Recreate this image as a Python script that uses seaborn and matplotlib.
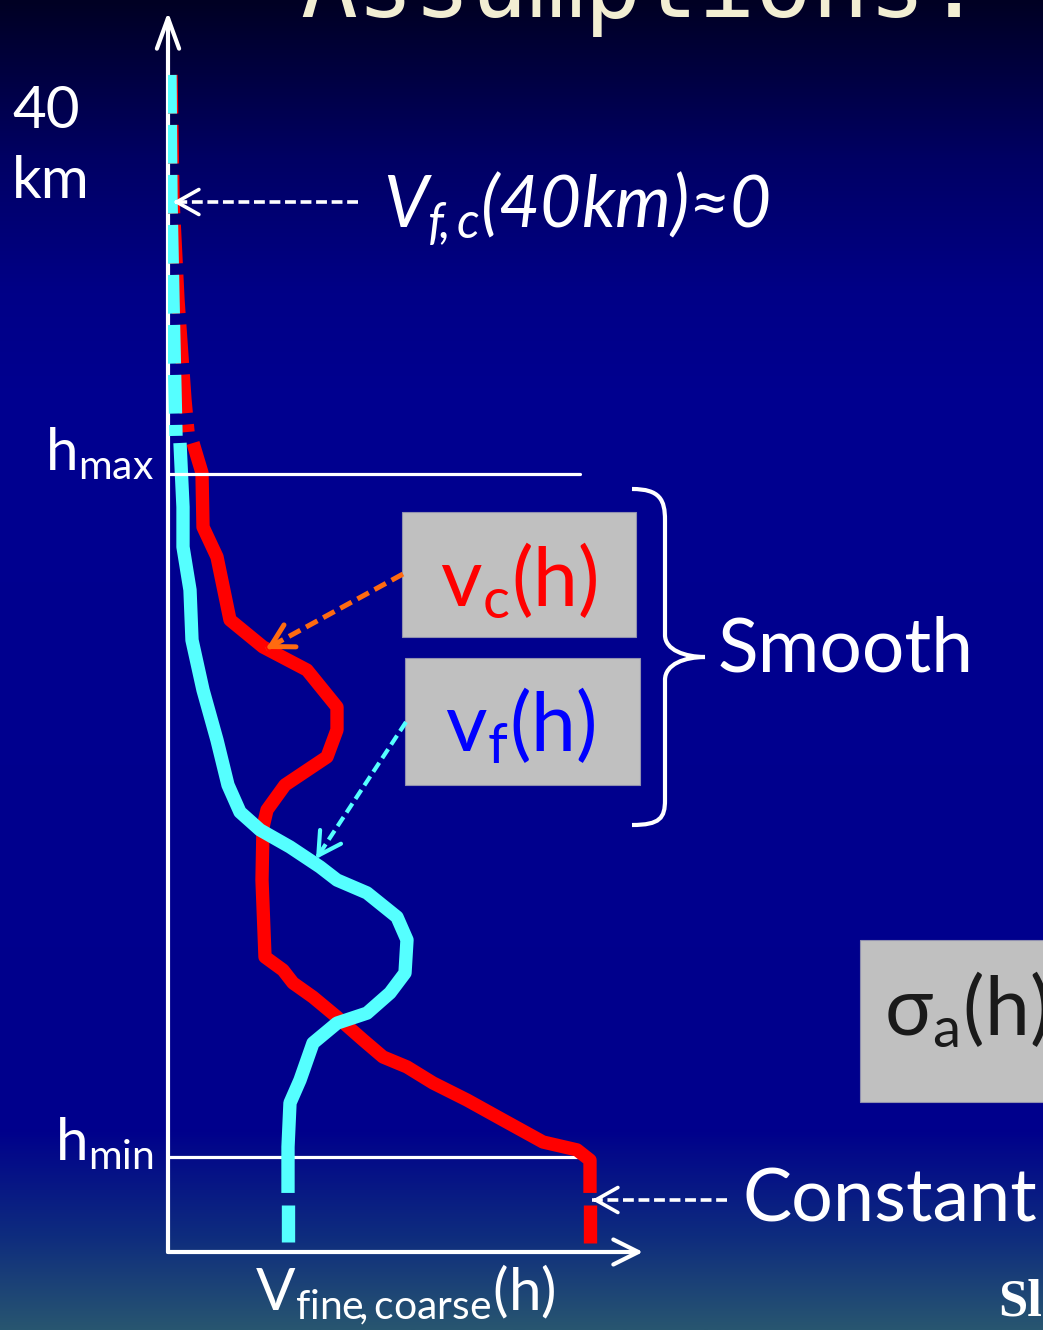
import numpy as np
import matplotlib
matplotlib.use("Agg")
import matplotlib.pyplot as plt
from matplotlib.patches import Rectangle, PathPatch
from matplotlib.path import Path
import seaborn as sns

# ---------------- data (V in arbitrary units, h in km) ----------------
red_top_v = [0.06, 0.10, 0.20, 0.34, 0.40]
red_top_h = [44.84, 40.08, 36.27, 32.46, 31.24]
red_v = [0.50, 0.68, 0.70, 0.98, 1.24, 1.90, 2.78, 3.38, 3.38, 3.18, 2.34, 1.98, 1.90, 1.88, 1.94,
         2.30, 2.50, 2.90, 3.38, 3.90, 4.30, 4.78, 5.30, 5.98, 6.70, 7.50, 8.18, 8.44, 8.44]
red_h = [30.82, 29.68, 27.62, 26.48, 24.08, 23.05, 22.17, 20.76, 19.89, 18.86, 17.79, 16.84, 16.19,
         14.17, 11.24, 10.74, 10.25, 9.71, 8.95, 8.08, 7.43, 7.05, 6.44, 5.79, 5.03, 4.19, 3.89, 3.50, 2.25]
red_bot_v = [8.44, 8.44]
red_bot_h = [1.79, 0.34]

cyan_top_v = [0.04, 0.06, 0.10, 0.16]
cyan_top_h = [44.84, 40.08, 36.27, 31.09]
cyan_v = [0.24, 0.30, 0.30, 0.44, 0.48, 0.70, 0.98, 1.20, 1.44, 1.84, 2.44, 3.04, 3.38, 3.98, 4.58,
          4.78, 4.74, 4.44, 3.98, 3.38, 2.90, 2.64, 2.44, 2.40, 2.40]
cyan_h = [30.82, 28.38, 26.86, 25.22, 23.31, 21.41, 19.50, 17.79, 16.76, 16.08, 15.43, 14.67, 14.17,
          13.68, 12.76, 11.89, 10.63, 9.87, 9.10, 8.72, 7.96, 6.55, 5.68, 4.00, 2.25]
cyan_bot_v = [2.40, 2.40]
cyan_bot_h = [1.79, 0.38]

h_max = 29.64
h_min = 3.62
hmax_line_v = [0.0, 8.24]
hmin_line_v = [0.0, 8.44]

# ---------------- style ----------------
sns.set_theme(style="white")
plt.rcParams['font.family'] = ['Lato', 'DejaVu Sans']
plt.rcParams['mathtext.fontset'] = 'custom'
plt.rcParams['mathtext.rm'] = 'Lato'
plt.rcParams['mathtext.it'] = 'Lato:italic'
plt.rcParams['mathtext.bf'] = 'Lato:bold'

W, H = 1043, 1330
fig = plt.figure(figsize=(W / 100, H / 100), dpi=100)

# background gradient
bg = fig.add_axes([0, 0, 1, 1])
stops = [(0.0, (0, 0, 35)), (0.05, (0, 0, 62)), (0.12, (0, 0, 100)), (0.22, (0, 0, 135)),
         (0.30, (0, 0, 144)), (0.85, (0, 0, 140)), (0.93, (14, 44, 126)), (1.0, (40, 86, 112))]
t = np.linspace(0, 1, 600)
cols = np.zeros((600, 1, 3))
for c in range(3):
    cols[:, 0, c] = np.interp(t, [s[0] for s in stops], [s[1][c] / 255 for s in stops])
bg.imshow(cols, aspect='auto', extent=[0, 1, 0, 1], origin='upper')
bg.set_xlim(0, 1); bg.set_ylim(0, 1)
bg.axis('off')

# data axes
ax = fig.add_axes([168 / W, 78 / H, 475 / W, 1240 / H])
ax.set_xlim(0, 9.5)
ax.set_ylim(0, 1240 / 26.25)
ax.patch.set_alpha(0)
for s in ax.spines.values():
    s.set_visible(False)
ax.set_xticks([]); ax.set_yticks([])

white = '#FFFFFF'
ax.annotate('', xy=(0, 1), xytext=(0, 0), xycoords='axes fraction',
            arrowprops=dict(arrowstyle='->,head_length=1.1,head_width=0.4', color=white, lw=3,
                            mutation_scale=20, shrinkA=0, shrinkB=0), zorder=1)
ax.annotate('', xy=(1, 0), xytext=(0, 0), xycoords='axes fraction',
            arrowprops=dict(arrowstyle='->,head_length=0.9,head_width=0.45', color=white, lw=3,
                            mutation_scale=20, shrinkA=0, shrinkB=0), zorder=1)

RED = '#FF0000'
CYAN = '#55FFFF'
LW = 9.6
dash = (0, (2.9, 0.85))
line_kw = dict(sort=False, estimator=None, lw=LW, ax=ax)
sns.lineplot(x=red_top_v, y=red_top_h, color=RED, linestyle=dash, dash_capstyle='butt',
             zorder=3, **line_kw)
sns.lineplot(x=red_v, y=red_h, color=RED, solid_capstyle='butt', solid_joinstyle='round',
             zorder=3, **line_kw)
sns.lineplot(x=red_bot_v, y=red_bot_h, color=RED, solid_capstyle='butt', zorder=3, **line_kw)
sns.lineplot(x=cyan_top_v, y=cyan_top_h, color=CYAN, linestyle=dash, dash_capstyle='butt',
             zorder=4, **line_kw)
sns.lineplot(x=cyan_v, y=cyan_h, color=CYAN, solid_capstyle='butt', solid_joinstyle='round',
             zorder=4, **line_kw)
sns.lineplot(x=cyan_bot_v, y=cyan_bot_h, color=CYAN, solid_capstyle='butt', zorder=4, **line_kw)
ax.plot(hmax_line_v, [h_max, h_max], color=white, lw=2.3, zorder=5)
ax.plot(hmin_line_v, [h_min, h_min], color=white, lw=2.3, zorder=2)
ax.set_xlim(0, 9.5)
ax.set_ylim(0, 1240 / 26.25)
ax.set_xlabel(''); ax.set_ylabel('')

# overlay axes in pixel coordinates for annotations
ov = fig.add_axes([0, 0, 1, 1])
ov.set_xlim(0, W); ov.set_ylim(H, 0)
ov.patch.set_alpha(0)
ov.axis('off')

ov.text(300, 17, 'Assumptions:', fontsize=68, color='#F2EED3', family='DejaVu Sans Mono',
        va='baseline', ha='left')

ov.text(12, 128, '40', fontsize=42, color=white, va='baseline')
ov.text(12, 198, 'km', fontsize=42, color=white, va='baseline')
ov.text(383, 228, r'$V_{f\!,c}$(40km)≈0', fontsize=51, color=white, style='italic',
        va='baseline')
ov.text(45, 470, r'h$_{\mathrm{max}}$', fontsize=42, color=white, va='baseline')
ov.text(55, 1160, r'h$_{\mathrm{min}}$', fontsize=42, color=white, va='baseline')
ov.text(255, 1310, r'V$_{\mathrm{fine\!,coarse}}$(h)', fontsize=42, color=white, va='baseline')
ov.text(718, 672, 'Smooth', fontsize=54, color=white, va='baseline')
ov.text(742, 1222, 'Constant', fontsize=53, color=white, va='baseline')
ov.text(998, 1316, 'Sl', fontsize=38, color=white, family='Liberation Serif', weight='bold',
        va='baseline')

# grey boxes
ov.add_patch(Rectangle((402, 512), 234, 125, facecolor='#C0C0C0', edgecolor='#9090B0', lw=0.8))
ov.add_patch(Rectangle((405, 658), 235, 127, facecolor='#C0C0C0', edgecolor='#9090B0', lw=0.8))
ov.add_patch(Rectangle((860, 940), 200, 162, facecolor='#C0C0C0', edgecolor='#9090B0', lw=0.8))
ov.text(440, 606, r'v$_{\mathrm{c}}$(h)', fontsize=58, color='#FF0000', va='baseline')
ov.text(445, 752, r'v$_{\mathrm{f}}$(h)', fontsize=58, color='#0000FF', va='baseline')
ov.text(884, 1035, r'σ$_{\mathrm{a}}$(h)', fontsize=58, color='#1A1A1A', va='baseline')

# brace
verts = [(632, 489), (660, 489), (665, 500), (665, 520),
         (665, 635),
         (665, 650), (685, 657), (705, 657),
         (685, 657), (665, 664), (665, 680),
         (665, 800),
         (665, 818), (660, 825), (632, 825)]
codes = [Path.MOVETO, Path.CURVE4, Path.CURVE4, Path.CURVE4,
         Path.LINETO,
         Path.CURVE4, Path.CURVE4, Path.CURVE4,
         Path.CURVE4, Path.CURVE4, Path.CURVE4,
         Path.LINETO,
         Path.CURVE4, Path.CURVE4, Path.CURVE4]
ov.add_patch(PathPatch(Path(verts, codes), facecolor='none', edgecolor=white, lw=3))


def dashed_arrow(x0, y0, x1, y1, color, lw, dashes, hl=0.8, hw=0.45):
    ov.plot([x0, x1], [y0, y1], color=color, lw=lw, linestyle=(0, dashes), dash_capstyle='butt')
    d = np.array([x1 - x0, y1 - y0], float)
    d /= np.hypot(*d)
    ov.annotate('', xy=(x1, y1), xytext=(x1 - 6 * d[0], y1 - 6 * d[1]),
                arrowprops=dict(arrowstyle=f'->,head_length={hl},head_width={hw}', color=color,
                                lw=lw, mutation_scale=20, shrinkA=0, shrinkB=0))


dashed_arrow(358, 202, 173, 202, white, 2.6, (3.0, 1.3))
dashed_arrow(727, 1200, 592, 1200, white, 2.6, (3.0, 1.3))
dashed_arrow(403, 574, 266, 649, '#FF6A10', 3.6, (2.6, 1.3))
dashed_arrow(406, 722, 316, 859, CYAN, 3.0, (2.6, 1.3))

fig.savefig('out.png', dpi=100)
